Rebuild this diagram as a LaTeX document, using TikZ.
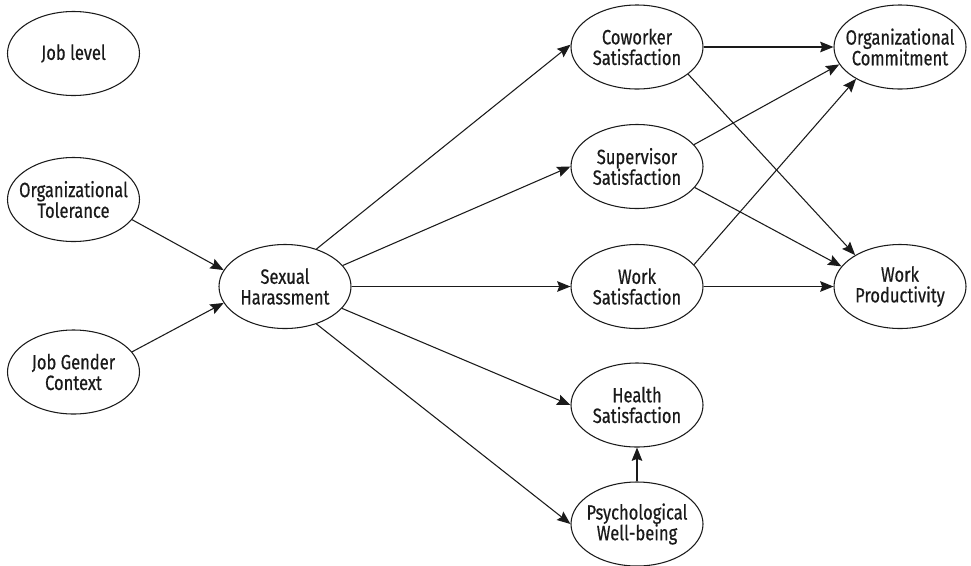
\documentclass[tikz,border=0pt]{standalone}
\usepackage{fontspec}
\setmainfont{Fira Sans}[FakeStretch=0.8,FakeBold=0.5]
\usepackage{tikz}
\usetikzlibrary{arrows.meta,shapes.geometric}
\definecolor{PathInk}{HTML}{1A1A1A}
\tikzset{
  construct/.style={
    ellipse,
    draw=PathInk,
    line width=.8pt,
    minimum width=99pt,
    minimum height=63pt,
    inner sep=-10pt,
    align=center,
    text=PathInk,
    font=\fontsize{15.5}{15.5}\selectfont
  },
  arrow/.style={-{Stealth[length=10pt,width=8pt,inset=1.5pt]},draw=PathInk,line width=.8pt}
}

\begin{document}
\begin{tikzpicture}[x=.75pt,y=-.75pt]
  \useasboundingbox (0,0) rectangle (971,565);
  % antecedents
  \node[construct] (jl) at (73.5,53.5) {Job level};
  \node[construct] (ot) at (73.5,199.5) {Organizational\\Tolerance};
  \node[construct] (jg) at (73.5,372) {Job Gender\\Context};
  \node[construct] (sh) at (285,286.5) {Sexual\\Harassment};

  % satisfaction facets
  \node[construct] (cs) at (637,47) {Coworker\\Satisfaction};
  \node[construct] (ss) at (637,166.5) {Supervisor\\Satisfaction};
  \node[construct] (ws) at (637,286.5) {Work\\Satisfaction};
  \node[construct] (hs) at (637,405) {Health\\Satisfaction};
  \node[construct] (pw) at (637,524) {Psychological\\Well-being};

  % outcomes
  \node[construct] (oc) at (900,47) {Organizational\\Commitment};
  \node[construct] (wp) at (900,286.5) {Work\\Productivity};

  \draw[arrow] (ot.-19) -- (sh.165);
  \draw[arrow] (jg.19) -- (sh.-165);

  \draw[arrow] (sh.50) -- (cs.178);
  \draw[arrow] (sh.20) -- (ss.180);
  \draw[arrow] (sh) -- (ws);
  \draw[arrow] (sh.-21) -- (hs.180);
  \draw[arrow] (sh.-50) -- (pw.180);
  \draw[arrow] (pw) -- (hs);

  \draw[arrow] (cs) -- (oc);
  \draw[arrow] (cs.-28) -- (wp.145);
  \draw[arrow] (ss.21) -- (oc.-164);
  \draw[arrow] (ss.-20) -- (wp.161);
  \draw[arrow] (ws.21) -- (oc.-144);
  \draw[arrow] (ws) -- (wp);
\end{tikzpicture}
\end{document}
